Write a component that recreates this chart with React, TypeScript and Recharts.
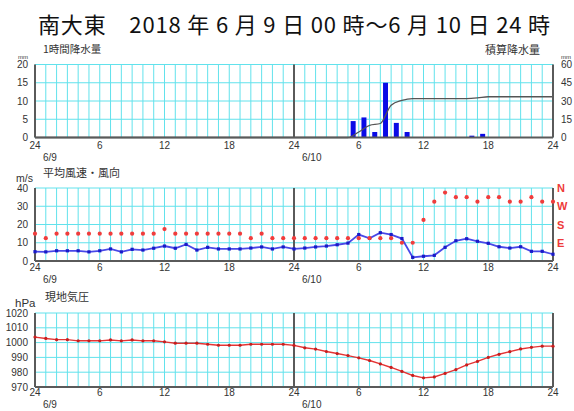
import React from 'react';
import { ComposedChart, Bar, Line, XAxis, YAxis, CartesianGrid, ReferenceLine } from 'recharts';

const W = 574;
const H = 411;

// ---- data ----
const hours = [0, 1, 2, 3, 4, 5, 6, 7, 8, 9, 10, 11, 12, 13, 14, 15, 16, 17, 18, 19, 20, 21, 22, 23, 24,
  25, 26, 27, 28, 29, 30, 31, 32, 33, 34, 35, 36, 37, 38, 39, 40, 41, 42, 43, 44, 45, 46, 47, 48];

const xTickHours = [0, 6, 12, 18, 24, 30, 36, 42, 48];
const xTickLabels = ['24', '6', '12', '18', '24', '6', '12', '18', '24'];
const dateTickHours = [0, 24];
const dateTickLabels = ['6/9', '6/10'];

// 1-hour precipitation (mm), value for hour ending at h
const precip1h = [0, 0, 0, 0, 0, 0, 0, 0, 0, 0, 0, 0, 0, 0, 0, 0, 0, 0, 0, 0, 0, 0, 0, 0, 0,
  0, 0, 0, 0, 0, 4.5, 5.5, 1.5, 15, 4, 1.5, 0, 0, 0, 0, 0, 0.5, 1, 0, 0, 0, 0, 0, 0];
// accumulated precipitation (mm)
const precipCum = [0, 0, 0, 0, 0, 0, 0, 0, 0, 0, 0, 0, 0, 0, 0, 0, 0, 0, 0, 0, 0, 0, 0, 0, 0,
  0, 0, 0, 0, 0, 4.5, 10, 11.5, 26.5, 30.5, 32, 32, 32, 32, 32, 32, 32.5, 33.5, 33.5, 33.5, 33.5, 33.5, 33.5, 33.5];

const precipTicks = [0, 5, 10, 15, 20];
const cumTicks = [0, 15, 30, 45, 60];

// mean wind speed (m/s)
const windSpeed = [5.1, 5.0, 5.6, 5.6, 5.6, 5.0, 5.6, 6.6, 5.0, 6.4,
  6.0, 7.0, 8.2, 7.0, 9.1, 6.0, 7.5, 6.6, 6.6, 6.6,
  7.1, 7.7, 6.6, 7.7, 6.6, 7.1, 7.7, 8.2, 8.9, 9.8,
  14.5, 12.4, 15.5, 14.5, 12.3, 2.0, 2.6, 3.1, 7.5, 11.1,
  12.2, 10.8, 9.7, 7.8, 7.1, 7.8, 5.3, 5.3, 3.7];
// wind direction (16 points)
const windDir = ['SE', 'ESE', 'SE', 'SE', 'SE', 'SE', 'SE', 'SE', 'SE', 'SE',
  'SE', 'SE', 'SSE', 'SE', 'SE', 'SE', 'SE', 'SE', 'SE', 'SE',
  'ESE', 'SE', 'ESE', 'ESE', 'ESE', 'ESE', 'ESE', 'ESE', 'ESE', 'ESE',
  'ESE', 'ESE', 'ESE', 'ESE', 'E', 'E', 'SSW', 'WNW', 'NNW', 'NW',
  'NW', 'WNW', 'NW', 'NW', 'WNW', 'WNW', 'NW', 'WNW', 'WNW'];
const compass16 = ['NNE', 'NE', 'ENE', 'E', 'ESE', 'SE', 'SSE', 'S', 'SSW', 'SW', 'WSW', 'W', 'WNW', 'NW', 'NNW', 'N'];
const windTicks = [0, 10, 20, 30, 40];
const dirTicks = [10, 20, 30, 40];
const dirTickLabels = ['E', 'S', 'W', 'N'];

// station pressure (hPa)
const pressure = [1003.7, 1002.8, 1002.0, 1002.0, 1001.2, 1001.2, 1001.2, 1001.8, 1001.2, 1001.8,
  1001.2, 1001.2, 1000.5, 999.6, 999.6, 999.6, 998.9, 998.2, 998.2, 998.2,
  998.9, 998.9, 998.9, 998.9, 998.1, 996.5, 995.6, 994.0, 992.6, 991.2,
  989.7, 987.9, 985.6, 983.2, 980.5, 977.8, 976.2, 976.8, 979.2, 981.7,
  984.9, 987.3, 990.0, 992.1, 993.9, 995.7, 996.8, 997.6, 997.6];
const pressTicks = [970, 980, 990, 1000, 1010, 1020];

// ---- tables ----
const rainTable: any[] = [];
hours.forEach((h, i) => {
  if (i > 0) rainTable.push({ t: h - 0.5, rain: precip1h[i] });
  rainTable.push({ t: h, cum: precipCum[i] });
});
const dirValue = (d: string) => (compass16.indexOf(d) + 1) * 2.5;
const windTable = hours.map((h, i) => ({ t: h, speed: windSpeed[i], dir: dirValue(windDir[i]) }));
const pressTable = hours.map((h, i) => ({ t: h, p: pressure[i] }));

// ---- style ----
const GRID = '#62e2ec';
const AXIS = '#5a5a5a';
const TXT = '#333';
const NUM_FONT = '"Liberation Sans", Arial, sans-serif';
const JP_FONT = '"Noto Sans CJK JP", sans-serif';

const makeXTick = (dyLabel: number, dyDate: number) => (props: any) => {
  const { x, y, payload } = props;
  const v = payload.value;
  const li = xTickHours.indexOf(v);
  const di = dateTickHours.indexOf(v);
  return (
    <g>
      {li >= 0 && (
        <text x={x} y={y + dyLabel} textAnchor="middle" fontSize={10} fontFamily={NUM_FONT} fill={TXT}>
          {xTickLabels[li]}
        </text>
      )}
      {di >= 0 && (
        <text x={x + 8} y={y + dyDate} textAnchor="start" fontSize={10} fontFamily={NUM_FONT} fill={TXT}>
          {dateTickLabels[di]}
        </text>
      )}
    </g>
  );
};

const leftTick = (props: any) => {
  const { x, y, payload } = props;
  return (
    <text x={x - 7} y={y + 3.5} textAnchor="end" fontSize={10} fontFamily={NUM_FONT} fill={TXT}>
      {payload.value}
    </text>
  );
};
const rightTick = (props: any) => {
  const { x, y, payload } = props;
  return (
    <text x={x + 8} y={y + 3.5} textAnchor="start" fontSize={10} fontFamily={NUM_FONT} fill={TXT}>
      {payload.value}
    </text>
  );
};
const dirTick = (props: any) => {
  const { x, y, payload } = props;
  const i = dirTicks.indexOf(payload.value);
  return (
    <text x={x + 4} y={y + 4} textAnchor="start" fontSize={11} fontWeight="bold" fontFamily={NUM_FONT} fill="#ee3a3a">
      {dirTickLabels[i]}
    </text>
  );
};

const squareDot = (p: any) => {
  if (p.cx == null || p.cy == null) return <g key={p.key} />;
  return <rect key={p.key} x={p.cx - 1.6} y={p.cy - 1.6} width={3.2} height={3.2} fill="#1a1ac8" />;
};
const redDot = (p: any) => {
  if (p.cx == null || p.cy == null) return <g key={p.key} />;
  return <circle key={p.key} cx={p.cx} cy={p.cy} r={2.1} fill="#f03c3c" />;
};
const pressDot = (p: any) => {
  if (p.cx == null || p.cy == null) return <g key={p.key} />;
  return <circle key={p.key} cx={p.cx} cy={p.cy} r={1.6} fill="#c81e1e" />;
};

const axisLine = { stroke: AXIS, strokeWidth: 2 };

const xAxisEl = (dyLabel: number, dyDate: number) => (
  <XAxis
    dataKey="t"
    type="number"
    domain={[0, 48]}
    ticks={hours}
    interval={0}
    tickLine={false}
    tickSize={0}
    tickMargin={0}
    axisLine={axisLine}
    height={20}
    tick={makeXTick(dyLabel, dyDate)}
  />
);

const wrap: React.CSSProperties = { position: 'absolute', left: 0, top: 0, width: W, height: H };

export default function App() {
  return (
    <div style={{ position: 'absolute', left: 0, top: 0, width: W, height: H, background: '#fff' }}>
      {/* precipitation */}
      <div style={wrap}>
        <ComposedChart width={W} height={H} data={rainTable} margin={{ top: 64.5, right: 0, bottom: 253.5, left: 0 }}>
          <CartesianGrid stroke={GRID} strokeWidth={1} />
          {xAxisEl(11, 23)}
          <YAxis type="number" domain={[0, 20]} ticks={precipTicks} interval={0} width={35} tickLine={false}
            tickSize={0} tickMargin={0} axisLine={axisLine} tick={leftTick} />
          <YAxis yAxisId="r" orientation="right" type="number" domain={[0, 60]} ticks={cumTicks} interval={0}
            width={21} tickLine={false} tickSize={0} tickMargin={0} axisLine={axisLine} tick={rightTick} />
          <ReferenceLine x={24} stroke={AXIS} strokeWidth={2} />
          <Bar dataKey="rain" fill="#0a0ae6" barSize={5} isAnimationActive={false} />
          <Line dataKey="cum" yAxisId="r" type="monotone" stroke="#555" strokeWidth={1.3} dot={false}
            activeDot={false} connectNulls isAnimationActive={false} />
        </ComposedChart>
      </div>
      {/* wind */}
      <div style={wrap}>
        <ComposedChart width={W} height={H} data={windTable} margin={{ top: 188, right: 0, bottom: 130, left: 0 }}>
          <CartesianGrid stroke={GRID} strokeWidth={1} />
          {xAxisEl(9.5, 22)}
          <YAxis type="number" domain={[0, 40]} ticks={windTicks} interval={0} width={35} tickLine={false}
            tickSize={0} tickMargin={0} axisLine={axisLine} tick={leftTick} />
          <YAxis yAxisId="r" orientation="right" type="number" domain={[0, 40]} ticks={dirTicks} interval={0}
            width={21} tickLine={false} tickSize={0} tickMargin={0} axisLine={axisLine} tick={dirTick} />
          <ReferenceLine x={24} stroke={AXIS} strokeWidth={2} />
          <Line dataKey="speed" type="linear" stroke="#4848e8" strokeWidth={1.8} dot={squareDot}
            activeDot={false} isAnimationActive={false} />
          <Line dataKey="dir" yAxisId="r" type="linear" stroke="none" dot={redDot}
            activeDot={false} isAnimationActive={false} />
        </ComposedChart>
      </div>
      {/* pressure */}
      <div style={wrap}>
        <ComposedChart width={W} height={H} data={pressTable} margin={{ top: 313, right: 0, bottom: 4, left: 0 }}>
          <CartesianGrid stroke={GRID} strokeWidth={1} />
          {xAxisEl(8.5, 21)}
          <YAxis type="number" domain={[970, 1020]} ticks={pressTicks} interval={0} width={35} tickLine={false}
            tickSize={0} tickMargin={0} axisLine={axisLine} tick={leftTick} />
          <YAxis yAxisId="r" orientation="right" type="number" domain={[970, 1020]} width={21} tickLine={false}
            tick={false} axisLine={axisLine} />
          <ReferenceLine x={24} stroke={AXIS} strokeWidth={2} />
          <Line dataKey="p" type="linear" stroke="#e43434" strokeWidth={1.4} dot={pressDot}
            activeDot={false} isAnimationActive={false} />
        </ComposedChart>
      </div>
      {/* texts */}
      <svg width={W} height={H} style={{ position: 'absolute', left: 0, top: 0, pointerEvents: 'none' }}>
        <text x={38} y={33} fontSize={22} fontFamily={JP_FONT} fill="#111" textLength={512} lengthAdjust="spacing">
          南大東　2018 年 6 月 9 日 00 時～6 月 10 日 24 時
        </text>
        <text x={43} y={53} fontSize={10.5} fontFamily={JP_FONT} fill={TXT}>1時間降水量</text>
        <text x={485} y={54} fontSize={11} fontFamily={JP_FONT} fill={TXT}>積算降水量</text>
        <text x={18} y={59} fontSize={6} fontFamily={NUM_FONT} fill={TXT}>mm</text>
        <text x={561} y={59} fontSize={6} fontFamily={NUM_FONT} fill={TXT}>mm</text>
        <text x={43} y={177} fontSize={11} fontFamily={JP_FONT} fill={TXT}>平均風速・風向</text>
        <text x={16} y={182} fontSize={10.5} fontFamily={NUM_FONT} fill={TXT}>m/s</text>
        <text x={45} y={301} fontSize={11} fontFamily={JP_FONT} fill={TXT}>現地気圧</text>
        <text x={15} y={307} fontSize={11.5} fontFamily={NUM_FONT} fill={TXT}>hPa</text>
      </svg>
    </div>
  );
}
